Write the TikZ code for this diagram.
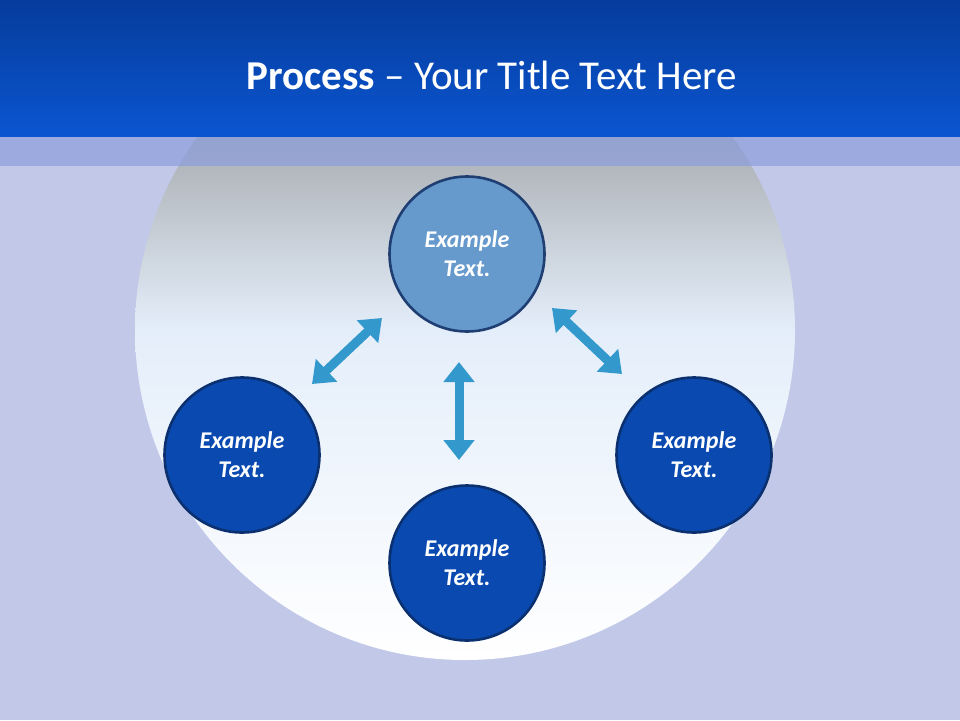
\documentclass[tikz,border=0pt]{standalone}
\usepackage{fontspec}
\setmainfont{Carlito}
\usetikzlibrary{arrows.meta}
\definecolor{bg}{HTML}{C2C8E8}
\definecolor{band}{HTML}{8C9EDE}
\definecolor{topA}{HTML}{063C9C}
\definecolor{topB}{HTML}{0A55D0}
\definecolor{light}{HTML}{6699CC}
\definecolor{lightB}{HTML}{1F3F73}
\definecolor{dark}{HTML}{0A4AB0}
\definecolor{darkB}{HTML}{0A3070}
\definecolor{arr}{HTML}{3399CC}
\definecolor{glow}{HTML}{E4EEFA}
\tikzset{
 circ/.style={circle,minimum size=155pt,line width=2.6pt,text=white,align=center,
   font=\fontsize{24}{29}\selectfont\bfseries\itshape,inner sep=0pt},
 topc/.style={circ,fill=light,draw=lightB},
 darkc/.style={circ,fill=dark,draw=darkB},
 dbl/.style={draw=arr,line width=9pt,{Triangle[length=20pt,width=30pt]}-{Triangle[length=20pt,width=30pt]},arr}
}
\begin{document}
\begin{tikzpicture}[x=1pt,y=-1pt]
\useasboundingbox (0,0) rectangle (960,720);
\fill[bg] (0,0) rectangle (960,720);
\begin{scope}
\clip (0,136) rectangle (960,720);
\shade[inner color=white,outer color=bg,middle color=glow] (465,330) circle (330);
\end{scope}
\fill[band,opacity=0.7] (0,136) rectangle (960,166);
\shade[top color=topA,bottom color=topB] (0,0) rectangle (960,136);
\node[text=white,font=\fontsize{41}{46}\selectfont] (title) at (492,75) {\textbf{Process} -- Your Title Text Here};
\node[topc] (t) at (467,254) {Example\\Text.};
\node[darkc] (l) at (242,455) {Example\\Text.};
\node[darkc] (r) at (694,455) {Example\\Text.};
\node[darkc] (b) at (467,563) {Example\\Text.};
\coordinate (la) at (382,318); \coordinate (lb) at (312,384);
\coordinate (ra) at (552,308); \coordinate (rb) at (622,374);
\coordinate (va) at (459,362); \coordinate (vb) at (459,460);
\draw[dbl] (la) -- (lb);
\draw[dbl] (ra) -- (rb);
\draw[dbl] (va) -- (vb);
\end{tikzpicture}
\end{document}
